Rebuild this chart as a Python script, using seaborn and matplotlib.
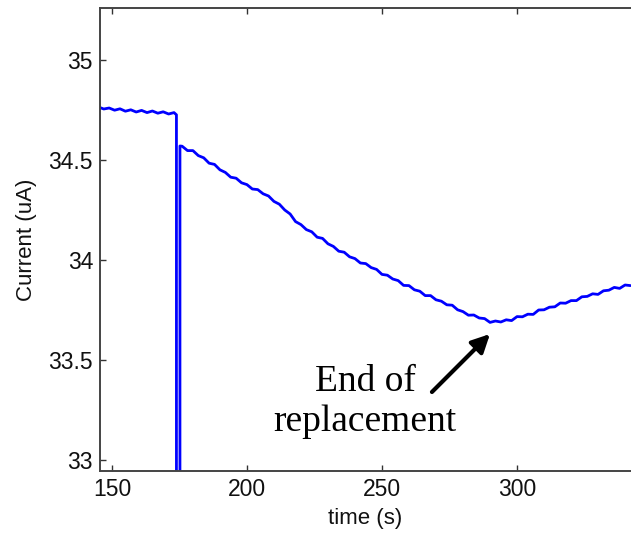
import matplotlib
matplotlib.use("Agg")
import matplotlib.pyplot as plt
import seaborn as sns
import pandas as pd

# Baseline current before the replacement starts
t_before = [145.6, 147, 149, 151, 153, 155, 157, 159, 161, 163, 165, 167, 169, 171, 173, 173.9]
i_before = [34.762, 34.755, 34.760, 34.749, 34.756, 34.744, 34.751, 34.740, 34.748, 34.737,
            34.745, 34.734, 34.741, 34.730, 34.737, 34.726]

# Short dropout while the solution is swapped (reading falls off scale)
t_gap = [173.9, 175.2]
i_gap = [32.0, 32.0]

# Current after the dropout
t_after = [175.2, 176, 178, 180, 182, 184, 186, 188, 190, 192, 194, 196, 198, 200, 202, 204, 206,
           208, 210, 212, 214, 216, 218, 220, 222, 224, 226, 228, 230, 232, 234, 236, 238, 240,
           242, 244, 246, 248, 250, 252, 254, 256, 258, 260, 262, 264, 266, 268, 270, 272, 274,
           276, 278, 280, 282, 284, 286, 288, 290, 292, 294, 296, 298, 300, 302, 304, 306, 308,
           310, 312, 314, 316, 318, 320, 322, 324, 326, 328, 330, 332, 334, 336, 338, 340, 342]
i_after = [34.570, 34.569, 34.547, 34.547, 34.522, 34.511, 34.484, 34.478, 34.451, 34.438, 34.414,
           34.409, 34.386, 34.377, 34.355, 34.352, 34.331, 34.320, 34.293, 34.279, 34.250, 34.230,
           34.192, 34.177, 34.152, 34.141, 34.114, 34.108, 34.081, 34.068, 34.044, 34.039, 34.016,
           34.007, 33.985, 33.982, 33.962, 33.953, 33.928, 33.924, 33.905, 33.897, 33.873, 33.872,
           33.851, 33.844, 33.822, 33.822, 33.801, 33.794, 33.776, 33.774, 33.751, 33.742, 33.724,
           33.725, 33.710, 33.707, 33.688, 33.695, 33.690, 33.701, 33.697, 33.717, 33.716, 33.729,
           33.728, 33.750, 33.751, 33.764, 33.766, 33.785, 33.784, 33.797, 33.797, 33.816, 33.818,
           33.831, 33.828, 33.846, 33.849, 33.863, 33.858, 33.875, 33.872]

x_ticks = [150, 200, 250, 300]
y_ticks = [33, 33.5, 34, 34.5, 35]
y_tick_labels = ["33", "33.5", "34", "34.5", "35"]

note_text = "End of\nreplacement"
note_xy = (243.7, 33.29)
arrow_tail = (268.5, 33.34)
arrow_head = (290.0, 33.63)

df = pd.DataFrame({
    "time": t_before + t_gap + t_after,
    "current": i_before + i_gap + i_after,
})

sns.set_theme(style="white")
plt.rcParams["font.family"] = ["Liberation Sans", "DejaVu Sans"]

W, H = 631, 533
fig = plt.figure(figsize=(W / 100, H / 100), dpi=100)
ax = fig.add_axes([100 / W, (H - 471) / H, (631 - 100) / W, (471 - 8) / H])

sns.lineplot(data=df, x="time", y="current", sort=False, estimator=None,
             color="#0000ff", linewidth=2.0, ax=ax)

ax.set_xlim(145.6, 342.2)
ax.set_ylim(32.945, 35.26)
ax.set_xticks(x_ticks)
ax.set_xticklabels([str(v) for v in x_ticks])
ax.set_yticks(y_ticks)
ax.set_yticklabels(y_tick_labels)

ax.tick_params(axis="both", direction="in", length=4, width=1, color="#333333",
               labelsize=16.5, pad=5, labelcolor="#111111")
ax.tick_params(axis="x", top=True, bottom=True)
ax.tick_params(axis="y", left=True, right=False)

for side in ["left", "top", "bottom"]:
    ax.spines[side].set_color("#444444")
    ax.spines[side].set_linewidth(1.4)
ax.spines["right"].set_visible(False)

ax.set_xlabel("time (s)", fontsize=16, color="#111111", labelpad=5)
ax.set_ylabel("Current (uA)", fontsize=16, color="#111111", labelpad=8)

ax.text(note_xy[0], note_xy[1], note_text, ha="center", va="center",
        multialignment="center", fontsize=27, family="Liberation Serif",
        color="black", linespacing=1.2)
ax.annotate("", xy=arrow_head, xytext=arrow_tail,
            arrowprops=dict(arrowstyle="-|>,head_length=0.9,head_width=0.45",
                            color="black", lw=3, shrinkA=0, shrinkB=0))

fig.savefig("out.png", dpi=100)
